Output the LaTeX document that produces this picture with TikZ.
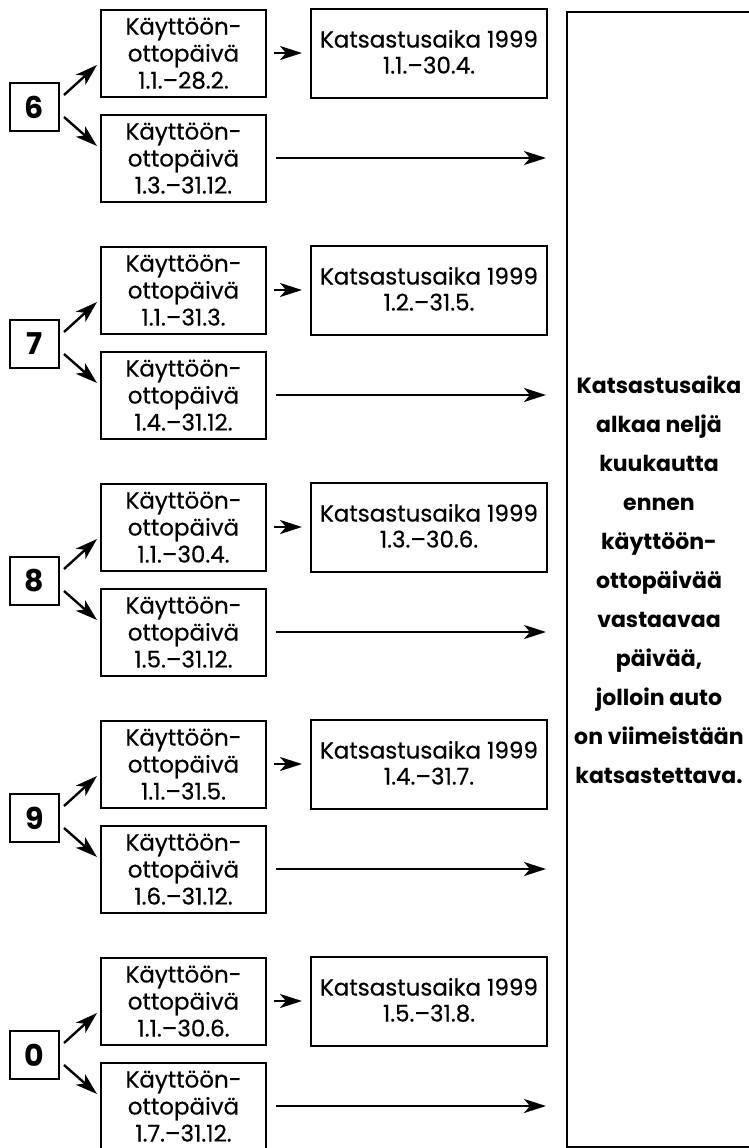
\documentclass[tikz,border=0pt]{standalone}
\usepackage{fontspec}
\setmainfont{Poppins}[Numbers=Monospaced]
\usetikzlibrary{arrows.meta,calc,positioning}

\begin{document}
\begin{tikzpicture}[
        x=0.5pt, y=-0.5pt,
        box/.style={draw, line width=1pt, align=center, inner sep=0pt,
            font=\fontsize{11.5}{13.5}\selectfont\addfontfeature{FakeBold=0.5}},
        datebox/.style={box, minimum width=82.5pt, minimum height=43.5pt,
            text height=39.5pt, text depth=4pt},
        periodbox/.style={box, minimum width=118pt, minimum height=44.5pt,
            text height=32.5pt, text depth=12pt,
            font=\fontsize{11.5}{13}\selectfont\addfontfeature{FakeBold=0.5}},
        digitbox/.style={box, minimum width=24.5pt, minimum height=24pt,
            font=\fontsize{15}{15}\selectfont\bfseries},
        pile/.style={line width=1.2pt, -{Stealth[length=11pt,width=7pt,inset=3pt]}},
    ]
    \useasboundingbox (0,0) rectangle (749,1148);
    % the big note on the right
    \node[box, minimum width=92pt, minimum height=567.5pt,
        font=\fontsize{11}{19.5}\selectfont\bfseries] (note) at (659,579.5)
        {Katsastusaika\\alkaa neljä\\kuukautta\\ennen\\käyttöön-\\ottopäivää\\vastaavaa\\päivää,\\jolloin auto\\on viimeistään\\katsastettava.};
    % one group per last digit
    \foreach \d/\first/\rest/\period [count=\i from 0] in {
        6/1.1.–28.2./1.3.–31.12./1.1.–30.4.,
        7/1.1.–31.3./1.4.–31.12./1.2.–31.5.,
        8/1.1.–30.4./1.5.–31.12./1.3.–30.6.,
        9/1.1.–31.5./1.6.–31.12./1.4.–31.7.,
        0/1.1.–30.6./1.7.–31.12./1.5.–31.8.}
    {
        \node[digitbox] (d\d) at (34.5,107+237*\i) {\d};
        \node[datebox] (t\d) at (183.5,53+237*\i) {Käyttöön-\\ottopäivä\\\first};
        \node[datebox] (b\d) at (183.5,158+237*\i) {Käyttöön-\\ottopäivä\\\rest};
        \node[periodbox] (k\d) at (429,53+237*\i) {Katsastusaika 1999\\\period};
        \draw[pile] ($(d\d.east)+(4,-12)$) -- ($(t\d.west)+(-3,12)$);
        \draw[pile] ($(d\d.east)+(4,10)$) -- ($(b\d.west)+(-3,-12)$);
        \draw[pile, shorten <=3.5pt, shorten >=4pt] (t\d) -- (k\d);
        \draw[pile, shorten <=4.5pt, shorten >=10pt] (b\d.east) -- (b\d.east -| note.west);
    }
\end{tikzpicture}
\end{document}
